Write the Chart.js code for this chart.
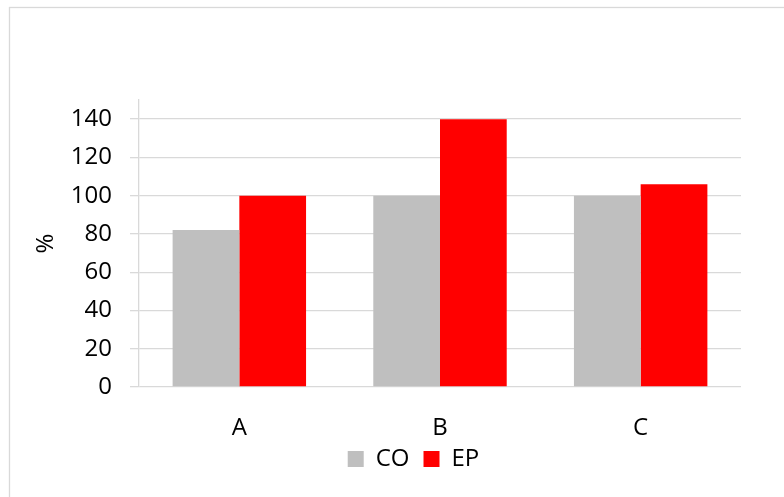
<!DOCTYPE html>
<html>
<head>
<meta charset="utf-8">
<script src="https://cdn.jsdelivr.net/npm/chart.js@4"></script>
<style>
  html, body { margin:0; padding:0; background:#fff; }
  #wrap { position:relative; width:784px; height:497px; }
</style>
</head>
<body>
<div id="wrap"><canvas id="chart" width="784" height="497"></canvas></div>
<script>
// ==== DATA ====
const categories = ["A", "B", "C"];
const coValues = [82, 100, 100];
const epValues = [100, 140, 106];
const yTicks = [0, 20, 40, 60, 80, 100, 120, 140];

const FONT = "'Open Sans', 'Noto Sans', sans-serif";
const GRID = "#d9d9d9";
const PAD_LEFT = 28;

// outer frame like the office chart area
const frame = {
  id: "frame",
  beforeDraw(chart){
    const c = chart.ctx;
    c.save();
    c.fillStyle = "#fff";
    c.fillRect(0, 0, chart.width, chart.height);
    c.strokeStyle = GRID;
    c.lineWidth = 1.3;
    c.strokeRect(9.5, 7.5, 800, 520);
    c.restore();
  },
  // legend sits a bit right of centre and tucked up under the axis in the original
  afterLayout(chart){
    const lg = chart.legend;
    if(lg){ lg.left += 29; lg.right += 29; lg.top -= 8; lg.bottom -= 8; }
  }
};

new Chart(document.getElementById("chart"), {
  type: "bar",
  data: {
    labels: categories,
    datasets: [
      { label: "CO", data: coValues, backgroundColor: "#bfbfbf", borderWidth: 0 },
      { label: "EP", data: epValues, backgroundColor: "#ff0000", borderWidth: 0 }
    ]
  },
  options: {
    responsive: false,
    animation: false,
    layout: { padding: { left: PAD_LEFT, right: 43, top: 100, bottom: 8 } },
    datasets: { bar: { categoryPercentage: 0.665, barPercentage: 1.0 } },
    plugins: {
      tooltip: { enabled: false },
      legend: {
        position: "bottom",
        labels: {
          font: { family: FONT, size: 24 },
          color: "#000",
          boxWidth: 16, boxHeight: 16,
          padding: 14
        }
      }
    },
    scales: {
      x: {
        grid: { display: false, drawTicks: false },
        border: { display: false },
        ticks: { font: { family: FONT, size: 24 }, color: "#000", padding: 27 },
        afterFit(s){ s.height = 54; }
      },
      y: {
        min: 0, max: 150,
        afterBuildTicks(s){ s.ticks = yTicks.map(v => ({ value: v })); },
        grid: { color: GRID, lineWidth: 1.3, tickLength: 9, drawTicks: true },
        border: { display: true, color: GRID, width: 1.3 },
        ticks: { font: { family: FONT, size: 24 }, color: "#000", padding: 18 },
        title: { display: true, text: "%", font: { family: FONT, size: 24 }, color: "#000" },
        afterFit(s){ s.width = 139 - PAD_LEFT; }
      }
    }
  },
  plugins: [frame]
});
</script>
</body>
</html>
